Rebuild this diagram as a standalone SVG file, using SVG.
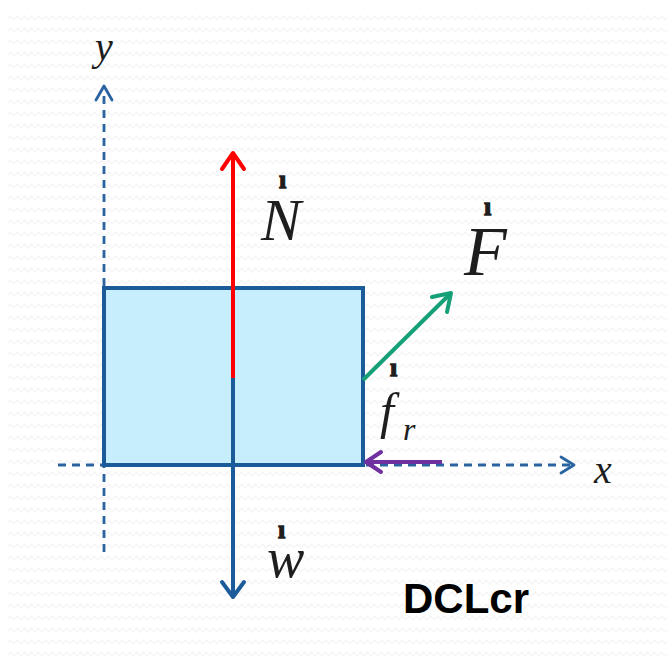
<svg xmlns="http://www.w3.org/2000/svg" width="667" height="656" viewBox="0 0 667 656">
  <defs>
    <pattern id="zig" width="14" height="12" patternUnits="userSpaceOnUse">
      <polyline points="0,8 3.5,4 7,8 10.5,4 14,8" fill="none" stroke="#f5f5f5" stroke-width="1.2"/>
    </pattern>
    <style>
      .ax { fill: none; stroke: #2a64a0; stroke-width: 2.8; stroke-dasharray: 8 6; }
      .axh { fill: none; stroke: #2a64a0; stroke-width: 2.8; stroke-linecap: round; stroke-linejoin: round; }
      .vec { fill: none; stroke-width: 4; stroke-linecap: butt; }
      .head { fill: none; stroke-width: 4; stroke-linecap: round; stroke-linejoin: round; }
      .sym { font-family: "Liberation Serif", "Times New Roman", serif; font-style: italic; fill: #1e1e1e; }
      .acc { font-family: "Liberation Serif", "Times New Roman", serif; font-style: normal; font-weight: bold; font-size: 26px; fill: #1e1e1e; stroke: #1e1e1e; stroke-width: 1.3; }
      .title { font-family: "Liberation Sans", Arial, sans-serif; font-weight: bold; font-size: 42px; fill: #000; }
    </style>
  </defs>
  <rect width="667" height="656" fill="#ffffff"/>
  <rect x="8" y="8" width="659" height="648" fill="url(#zig)"/>

  <g id="axes">
    <line class="ax" x1="104" y1="552" x2="104" y2="90"/>
    <polyline class="axh" points="96,100 104,86 112,100"/>
    <line class="ax" x1="58" y1="465" x2="570" y2="465"/>
    <polyline class="axh" points="561,457 574,465 561,473"/>
  </g>

  <g id="block">
    <rect x="104" y="288" width="259" height="177" fill="#c6eefc" stroke="#1b5b9a" stroke-width="4"/>
  </g>

  <g id="connectors">
    <g id="force-N">
      <line class="vec" x1="233" y1="378" x2="233" y2="154" stroke="#ff0000"/>
      <polyline class="head" points="222,169 233,153 244,169" stroke="#ff0000"/>
    </g>
    <g id="force-W">
      <line class="vec" x1="233" y1="378" x2="233" y2="596" stroke="#1b5b9a"/>
      <polyline class="head" points="222,582 233,597 244,582" stroke="#1b5b9a"/>
    </g>
    <g id="force-F">
      <line class="vec" x1="363" y1="380" x2="450" y2="294" stroke="#16a078"/>
      <polyline class="head" points="432,297 451,293 447,312" stroke="#16a078"/>
    </g>
    <g id="force-fr">
      <line class="vec" x1="442" y1="462" x2="366" y2="462" stroke="#7030a0"/>
      <polyline class="head" points="381,452 366,462 381,472" stroke="#7030a0"/>
    </g>
  </g>

  <g id="label-y"><text class="sym" x="95" y="60" font-size="40">y</text></g>
  <g id="label-x"><text class="sym" x="594" y="483" font-size="40">x</text></g>

  <g id="label-N">
    <text class="sym" font-size="60"><tspan class="acc" x="279" y="188">ı</tspan><tspan x="261" y="240">N</tspan></text>
  </g>
  <g id="label-F">
    <text class="sym" font-size="70"><tspan class="acc" x="484" y="215">ı</tspan><tspan x="464" y="275">F</tspan></text>
  </g>
  <g id="label-fr">
    <text class="sym" font-size="50"><tspan class="acc" x="390" y="376">ı</tspan><tspan x="380" y="428">f</tspan><tspan x="403" y="440" font-size="32">r</tspan></text>
  </g>
  <g id="label-W">
    <text class="sym" font-size="56"><tspan class="acc" x="278" y="538">ı</tspan><tspan x="267" y="577">w</tspan></text>
  </g>

  <g id="title"><text class="title" x="403" y="613">DCLcr</text></g>
</svg>
